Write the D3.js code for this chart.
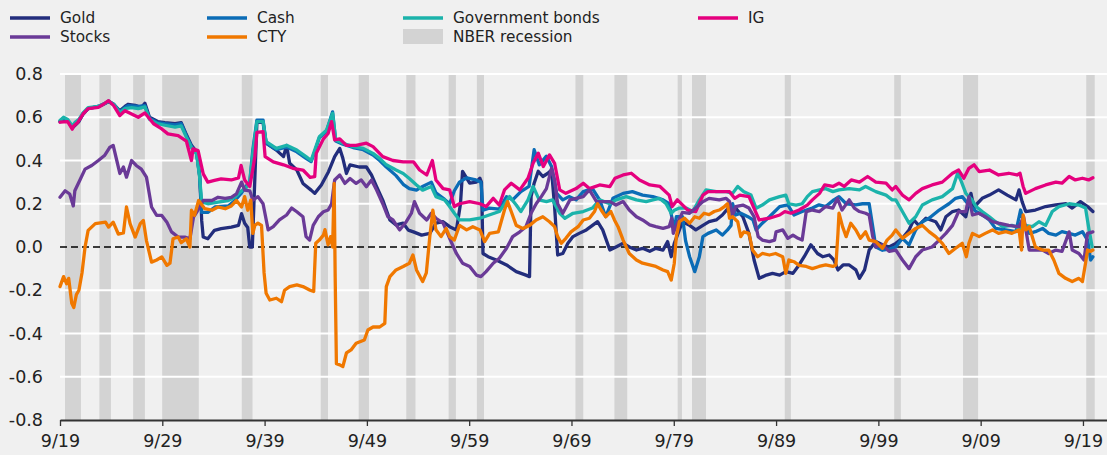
<!DOCTYPE html>
<html><head><meta charset="utf-8">
<script src="https://cdn.jsdelivr.net/npm/d3@7"></script>
<style>
html,body{margin:0;padding:0;background:#f0f0f0;}
svg{display:block;font-family:"DejaVu Sans",sans-serif;}
</style></head>
<body>
<svg id="c" width="1107" height="455"></svg>
<script>
// ---------- data (decimal year, correlation) ----------
const seriesNames = ["Gold","Cash","Government bonds","IG","Stocks","CTY"];
const xTickYears = [1919.75,1929.75,1939.75,1949.75,1959.75,1969.75,1979.75,1989.75,1999.75,2009.75,2019.75];
const xTickLabels = ["9/19","9/29","9/39","9/49","9/59","9/69","9/79","9/89","9/99","9/09","9/19"];
const yTicks = [-0.8,-0.6,-0.4,-0.2,0.0,0.2,0.4,0.6,0.8];
const recessions = [[1920.24,1921.8],[1923.6,1924.73],[1926.9,1928.05],[1929.74,1933.32],[1937.52,1938.57],[1945.24,1945.95],[1948.95,1949.95],[1953.6,1954.5],[1957.74,1958.45],[1960.5,1961.2],[1970.14,1970.9],[1973.95,1975.2],[1980.13,1980.55],[1981.53,1982.9],[1990.6,1991.2],[2001.3,2001.95],[2008.03,2009.5],[2020.07,2020.9]];

const ig = [[1919.75,0.577],[1920.5,0.58],[1920.95,0.545],[1921.1,0.56],[1921.5,0.577],[1922.0,0.615],[1922.5,0.64],[1923.5,0.646],[1924.0,0.66],[1924.5,0.677],[1925.0,0.654],[1925.6,0.608],[1926.1,0.63],[1926.75,0.615],[1927.4,0.6],[1928.05,0.62],[1928.9,0.57],[1929.7,0.546],[1930.3,0.523],[1931.3,0.515],[1932.1,0.49],[1932.6,0.4],[1932.75,0.454],[1933.25,0.446],[1933.75,0.338],[1934.2,0.3],[1934.85,0.308],[1935.5,0.315],[1936.5,0.31],[1937.2,0.32],[1937.45,0.377],[1937.8,0.31],[1938.3,0.28],[1938.6,0.36],[1938.8,0.42],[1939.0,0.53],[1939.6,0.533],[1939.8,0.418],[1940.6,0.394],[1941.6,0.38],[1942.5,0.364],[1943.5,0.356],[1944.2,0.322],[1944.65,0.325],[1944.8,0.433],[1945.5,0.50],[1945.96,0.525],[1946.3,0.58],[1946.6,0.495],[1947.1,0.50],[1947.75,0.47],[1948.7,0.47],[1949.7,0.48],[1950.35,0.464],[1951.3,0.418],[1952.3,0.40],[1953.3,0.394],[1954.3,0.394],[1954.9,0.356],[1955.6,0.333],[1956.15,0.40],[1956.5,0.31],[1957.2,0.27],[1957.84,0.264],[1958.3,0.187],[1958.8,0.20],[1959.8,0.21],[1960.8,0.20],[1961.4,0.187],[1962.1,0.225],[1962.7,0.194],[1963.2,0.264],[1963.86,0.295],[1964.7,0.264],[1965.5,0.318],[1966.0,0.387],[1966.5,0.434],[1967.0,0.372],[1967.6,0.426],[1968.1,0.387],[1968.6,0.264],[1969.2,0.248],[1970.2,0.27],[1970.9,0.295],[1971.5,0.27],[1972.5,0.287],[1973.5,0.279],[1974.0,0.318],[1974.8,0.333],[1975.6,0.341],[1976.4,0.31],[1977.4,0.287],[1978.4,0.28],[1979.3,0.24],[1979.6,0.187],[1980.1,0.218],[1980.6,0.195],[1981.1,0.171],[1981.9,0.164],[1982.6,0.24],[1983.1,0.256],[1984.2,0.256],[1985.2,0.256],[1985.7,0.225],[1986.2,0.24],[1987.1,0.233],[1987.6,0.179],[1988.1,0.125],[1989.1,0.133],[1990.1,0.148],[1990.6,0.164],[1991.2,0.156],[1992.0,0.171],[1992.8,0.194],[1993.3,0.218],[1994.0,0.248],[1994.5,0.287],[1995.3,0.28],[1995.9,0.295],[1996.4,0.28],[1997.1,0.31],[1997.9,0.30],[1998.7,0.326],[1999.5,0.30],[2000.5,0.295],[2001.1,0.264],[2001.45,0.28],[2002.1,0.24],[2002.75,0.218],[2003.4,0.248],[2004.05,0.27],[2005.0,0.287],[2006.0,0.30],[2007.0,0.341],[2007.6,0.356],[2008.1,0.318],[2008.6,0.364],[2009.1,0.38],[2009.6,0.349],[2010.6,0.356],[2011.5,0.333],[2012.5,0.341],[2013.3,0.333],[2013.6,0.341],[2013.9,0.28],[2014.15,0.248],[2015.1,0.27],[2016.1,0.287],[2017.1,0.30],[2017.7,0.295],[2018.4,0.326],[2019.0,0.31],[2019.7,0.318],[2020.3,0.31],[2020.72,0.32]];

const govBonds = [[1919.75,0.585],[1920.1,0.60],[1920.5,0.59],[1920.95,0.56],[1921.2,0.575],[1921.6,0.59],[1922.0,0.62],[1922.5,0.645],[1923.5,0.65],[1924.0,0.66],[1924.5,0.675],[1925.0,0.66],[1925.6,0.62],[1926.1,0.64],[1926.75,0.645],[1927.4,0.64],[1928.05,0.648],[1928.5,0.59],[1929.3,0.57],[1930.0,0.563],[1931.0,0.554],[1931.6,0.56],[1932.1,0.508],[1932.6,0.46],[1933.1,0.43],[1933.4,0.323],[1933.6,0.208],[1934.2,0.20],[1935.2,0.208],[1936.2,0.215],[1936.85,0.23],[1937.5,0.26],[1938.0,0.277],[1938.3,0.30],[1938.6,0.433],[1939.0,0.58],[1939.6,0.58],[1939.9,0.487],[1940.9,0.456],[1941.9,0.47],[1942.9,0.448],[1943.8,0.418],[1944.3,0.40],[1944.65,0.448],[1945.1,0.51],[1945.8,0.54],[1946.4,0.618],[1946.7,0.495],[1947.4,0.48],[1948.4,0.464],[1949.4,0.456],[1950.35,0.433],[1951.0,0.41],[1951.65,0.38],[1952.6,0.356],[1953.3,0.34],[1953.9,0.317],[1954.6,0.287],[1955.2,0.263],[1956.05,0.28],[1956.5,0.233],[1957.35,0.217],[1957.84,0.187],[1958.3,0.156],[1958.8,0.125],[1959.8,0.125],[1960.8,0.133],[1961.7,0.148],[1962.7,0.164],[1963.7,0.233],[1964.35,0.194],[1964.8,0.164],[1965.5,0.218],[1966.0,0.28],[1966.6,0.218],[1967.3,0.21],[1967.9,0.218],[1968.6,0.156],[1969.1,0.133],[1969.9,0.156],[1970.9,0.164],[1971.8,0.18],[1972.5,0.218],[1973.5,0.20],[1974.1,0.218],[1975.1,0.233],[1976.1,0.218],[1977.05,0.21],[1977.7,0.218],[1978.35,0.225],[1979.0,0.20],[1979.5,0.156],[1979.8,0.17],[1980.3,0.18],[1981.0,0.18],[1981.6,0.164],[1982.25,0.218],[1982.9,0.264],[1983.9,0.256],[1984.9,0.256],[1985.5,0.248],[1986.0,0.28],[1986.6,0.256],[1987.3,0.24],[1987.8,0.179],[1988.4,0.194],[1989.1,0.218],[1990.1,0.233],[1990.7,0.24],[1991.0,0.20],[1991.7,0.194],[1992.3,0.20],[1992.8,0.233],[1993.3,0.256],[1994.0,0.264],[1994.6,0.27],[1995.3,0.256],[1995.9,0.264],[1996.9,0.27],[1997.9,0.264],[1998.5,0.28],[1999.5,0.256],[2000.5,0.24],[2001.1,0.218],[2001.45,0.218],[2002.1,0.164],[2002.75,0.11],[2003.4,0.14],[2004.05,0.194],[2005.0,0.218],[2006.0,0.233],[2007.0,0.27],[2007.5,0.341],[2007.8,0.31],[2008.3,0.248],[2008.9,0.218],[2009.3,0.187],[2009.9,0.164],[2010.6,0.14],[2011.2,0.117],[2011.9,0.094],[2012.8,0.10],[2013.65,0.086],[2014.1,0.10],[2014.8,0.094],[2015.45,0.117],[2016.1,0.10],[2016.75,0.164],[2017.4,0.187],[2018.4,0.20],[2019.35,0.194],[2020.0,0.18],[2020.35,0.078],[2020.65,0.0]];

const cash = [[1919.75,0.58],[1920.1,0.595],[1920.5,0.585],[1920.95,0.555],[1921.2,0.57],[1921.6,0.585],[1922.0,0.615],[1922.5,0.64],[1923.5,0.65],[1924.0,0.66],[1924.5,0.675],[1925.0,0.66],[1925.6,0.625],[1926.1,0.645],[1926.4,0.654],[1927.4,0.65],[1928.05,0.654],[1928.5,0.595],[1929.3,0.575],[1930.0,0.57],[1931.0,0.565],[1931.6,0.57],[1932.1,0.515],[1932.6,0.465],[1933.1,0.435],[1933.4,0.33],[1933.6,0.16],[1934.2,0.16],[1934.9,0.185],[1936.2,0.19],[1936.85,0.215],[1937.5,0.25],[1938.0,0.285],[1938.3,0.30],[1938.6,0.45],[1939.0,0.587],[1939.6,0.587],[1939.9,0.48],[1940.9,0.45],[1941.9,0.462],[1942.9,0.44],[1943.8,0.41],[1944.3,0.395],[1944.65,0.44],[1945.1,0.505],[1945.8,0.535],[1946.4,0.625],[1946.7,0.49],[1947.4,0.475],[1948.4,0.46],[1949.4,0.45],[1950.35,0.425],[1951.0,0.40],[1951.65,0.37],[1952.6,0.33],[1953.3,0.29],[1953.9,0.27],[1954.6,0.263],[1955.2,0.28],[1956.05,0.30],[1956.5,0.25],[1957.35,0.22],[1957.84,0.20],[1958.3,0.26],[1958.8,0.30],[1959.5,0.32],[1960.4,0.31],[1960.9,0.30],[1961.1,0.17],[1961.7,0.18],[1962.7,0.175],[1963.4,0.233],[1964.0,0.218],[1964.8,0.256],[1965.6,0.28],[1966.1,0.45],[1966.6,0.38],[1967.3,0.42],[1967.8,0.372],[1968.3,0.248],[1968.9,0.218],[1969.5,0.233],[1970.2,0.218],[1970.9,0.256],[1971.8,0.27],[1972.5,0.218],[1973.1,0.14],[1973.8,0.225],[1974.8,0.248],[1975.7,0.256],[1976.7,0.24],[1977.7,0.233],[1978.7,0.218],[1979.3,0.20],[1979.8,0.08],[1980.0,0.14],[1980.6,0.14],[1980.9,0.03],[1981.3,-0.045],[1981.8,-0.114],[1982.25,-0.045],[1982.6,0.048],[1983.1,0.063],[1983.9,0.079],[1984.5,0.055],[1985.0,0.079],[1985.35,0.10],[1985.5,0.20],[1985.8,0.148],[1986.3,0.156],[1987.0,0.14],[1987.5,0.125],[1987.8,0.079],[1988.4,0.11],[1989.1,0.14],[1990.1,0.187],[1990.9,0.195],[1991.5,0.148],[1992.3,0.164],[1993.3,0.18],[1993.95,0.195],[1994.6,0.187],[1995.4,0.218],[1995.9,0.233],[1996.6,0.20],[1997.55,0.195],[1998.2,0.20],[1998.85,0.20],[1999.2,0.094],[1999.5,0.0],[2000.15,-0.015],[2000.8,-0.01],[2001.45,0.0],[2002.1,0.04],[2002.75,0.01],[2003.4,0.079],[2004.05,0.117],[2004.7,0.133],[2005.7,0.171],[2006.65,0.20],[2007.3,0.225],[2007.95,0.233],[2008.6,0.194],[2009.3,0.164],[2009.9,0.148],[2010.6,0.125],[2011.2,0.086],[2012.2,0.079],[2013.2,0.071],[2013.65,0.171],[2014.0,0.11],[2014.5,0.063],[2015.1,0.071],[2015.8,0.086],[2016.4,0.063],[2017.1,0.055],[2017.7,0.071],[2018.4,0.063],[2019.0,0.055],[2019.7,0.071],[2020.2,0.032],[2020.5,-0.06],[2020.72,-0.045]];

const gold = [[1919.75,0.58],[1920.5,0.585],[1920.95,0.55],[1921.6,0.58],[1922.0,0.615],[1922.5,0.64],[1923.5,0.65],[1924.5,0.672],[1925.0,0.66],[1925.6,0.63],[1926.1,0.65],[1926.4,0.66],[1927.1,0.655],[1927.7,0.645],[1928.05,0.665],[1928.5,0.60],[1929.3,0.58],[1930.0,0.575],[1931.0,0.57],[1931.6,0.575],[1932.1,0.52],[1932.6,0.47],[1933.1,0.44],[1933.4,0.33],[1933.6,0.123],[1933.75,0.046],[1934.2,0.038],[1934.85,0.077],[1935.5,0.085],[1936.5,0.092],[1937.2,0.10],[1937.5,0.154],[1937.8,0.11],[1938.1,0.09],[1938.3,0.0],[1938.55,0.0],[1938.7,0.19],[1939.0,0.58],[1939.6,0.575],[1939.9,0.48],[1940.9,0.448],[1941.6,0.418],[1941.9,0.47],[1942.2,0.387],[1942.9,0.356],[1943.5,0.294],[1944.3,0.263],[1944.65,0.248],[1945.3,0.287],[1946.0,0.348],[1946.6,0.418],[1947.1,0.456],[1947.4,0.41],[1947.75,0.34],[1948.1,0.38],[1949.0,0.37],[1949.7,0.37],[1950.2,0.333],[1950.7,0.279],[1951.3,0.217],[1952.0,0.125],[1952.6,0.102],[1953.3,0.11],[1953.8,0.078],[1954.3,0.07],[1955.1,0.055],[1955.9,0.063],[1956.5,0.11],[1957.2,0.117],[1957.84,0.094],[1958.5,0.079],[1958.9,0.20],[1959.1,0.35],[1959.8,0.295],[1960.45,0.30],[1960.8,0.318],[1960.95,0.30],[1961.1,-0.03],[1961.6,-0.045],[1962.4,-0.06],[1963.4,-0.083],[1964.35,-0.114],[1965.3,-0.13],[1965.65,-0.137],[1965.8,0.233],[1966.1,0.295],[1966.5,0.35],[1966.95,0.326],[1967.45,0.341],[1967.8,0.356],[1968.1,0.187],[1968.4,-0.037],[1968.9,-0.03],[1969.4,0.017],[1969.9,0.048],[1970.5,0.063],[1971.2,0.079],[1971.8,0.10],[1972.3,0.117],[1972.8,0.079],[1973.5,-0.014],[1974.1,0.0],[1974.8,0.017],[1975.4,0.0],[1976.1,-0.014],[1976.7,-0.006],[1977.4,-0.02],[1978.0,-0.006],[1978.7,-0.014],[1979.15,0.025],[1979.5,-0.045],[1979.8,0.017],[1980.6,0.117],[1981.3,0.10],[1981.9,0.079],[1982.6,0.10],[1983.2,0.117],[1983.9,0.125],[1984.5,0.148],[1985.2,0.187],[1985.5,0.164],[1985.8,0.18],[1986.5,0.14],[1987.1,0.063],[1987.6,-0.06],[1988.1,-0.145],[1988.8,-0.13],[1989.4,-0.122],[1990.1,-0.13],[1990.7,-0.114],[1991.4,-0.122],[1992.0,-0.083],[1992.5,-0.045],[1993.15,0.01],[1993.8,-0.03],[1994.3,-0.045],[1994.95,-0.037],[1995.4,-0.06],[1995.8,-0.106],[1996.3,-0.083],[1996.9,-0.083],[1997.55,-0.106],[1997.9,-0.145],[1998.4,-0.106],[1998.85,-0.014],[1999.5,0.025],[2000.15,0.01],[2000.8,0.0],[2001.45,0.017],[2002.1,0.04],[2002.75,0.079],[2003.2,0.125],[2003.7,0.10],[2004.4,0.133],[2005.35,0.117],[2005.85,0.079],[2006.35,0.14],[2007.0,0.164],[2007.6,0.171],[2008.3,0.14],[2008.8,0.248],[2009.1,0.18],[2009.4,0.20],[2009.9,0.225],[2010.6,0.24],[2011.5,0.264],[2012.35,0.24],[2013.2,0.218],[2013.5,0.264],[2013.8,0.21],[2014.15,0.164],[2015.1,0.171],[2016.1,0.187],[2017.1,0.195],[2018.1,0.20],[2018.7,0.18],[2019.5,0.21],[2020.2,0.187],[2020.72,0.164]];

const stocks = [[1919.75,0.23],[1920.25,0.26],[1920.7,0.245],[1921.05,0.19],[1921.2,0.26],[1921.7,0.31],[1922.2,0.36],[1922.85,0.377],[1923.5,0.40],[1924.1,0.423],[1924.6,0.46],[1924.95,0.47],[1925.3,0.40],[1925.6,0.34],[1925.95,0.37],[1926.25,0.323],[1926.75,0.40],[1927.2,0.377],[1927.7,0.36],[1928.2,0.323],[1928.7,0.185],[1929.2,0.146],[1929.7,0.146],[1930.2,0.115],[1930.65,0.07],[1931.3,0.046],[1931.95,0.046],[1932.45,0.038],[1932.8,0.138],[1933.1,0.16],[1933.75,0.215],[1934.6,0.215],[1935.2,0.23],[1935.9,0.225],[1936.5,0.23],[1937.0,0.246],[1937.5,0.30],[1937.8,0.263],[1938.3,0.26],[1938.6,0.217],[1939.1,0.233],[1939.6,0.20],[1940.1,0.079],[1940.6,0.094],[1941.2,0.125],[1941.9,0.148],[1942.4,0.18],[1942.9,0.163],[1943.5,0.14],[1943.8,0.048],[1944.15,0.032],[1944.5,0.10],[1945.0,0.14],[1945.5,0.163],[1945.96,0.171],[1946.3,0.20],[1946.6,0.31],[1947.1,0.333],[1947.6,0.294],[1948.1,0.317],[1948.7,0.294],[1949.2,0.31],[1949.7,0.279],[1950.2,0.31],[1950.7,0.263],[1951.3,0.20],[1951.8,0.14],[1952.3,0.125],[1952.95,0.079],[1953.6,0.117],[1954.1,0.156],[1954.4,0.21],[1954.9,0.156],[1955.6,0.125],[1956.05,0.156],[1956.5,0.133],[1957.2,0.11],[1957.84,0.04],[1958.5,-0.03],[1959.1,-0.075],[1959.8,-0.09],[1960.45,-0.13],[1960.9,-0.137],[1961.4,-0.114],[1962.1,-0.075],[1962.7,-0.052],[1963.4,-0.006],[1964.0,0.048],[1964.7,0.07],[1965.3,0.094],[1965.8,0.156],[1966.3,0.20],[1966.8,0.233],[1967.3,0.27],[1967.8,0.364],[1968.1,0.31],[1968.4,0.20],[1968.9,0.156],[1969.6,0.218],[1970.2,0.225],[1970.9,0.233],[1971.5,0.264],[1972.2,0.21],[1972.8,0.21],[1973.5,0.21],[1974.1,0.194],[1974.8,0.21],[1975.4,0.171],[1976.1,0.14],[1976.7,0.125],[1977.4,0.102],[1978.0,0.094],[1978.7,0.086],[1979.3,0.094],[1979.55,0.133],[1979.7,0.063],[1980.0,0.10],[1980.6,0.16],[1981.3,0.156],[1981.9,0.18],[1982.6,0.21],[1983.2,0.225],[1984.2,0.218],[1984.85,0.225],[1985.2,0.21],[1985.5,0.148],[1985.8,0.187],[1986.5,0.194],[1987.1,0.18],[1987.6,0.14],[1988.0,0.048],[1988.4,0.032],[1989.1,0.025],[1989.6,0.032],[1989.75,0.07],[1990.4,0.079],[1990.9,0.04],[1991.4,0.055],[1991.9,0.04],[1992.3,0.032],[1992.7,0.164],[1993.3,0.171],[1994.0,0.164],[1994.6,0.187],[1995.3,0.18],[1995.75,0.225],[1996.2,0.171],[1996.9,0.218],[1997.4,0.18],[1997.9,0.164],[1998.5,0.156],[1998.85,0.148],[1999.2,0.048],[1999.5,0.0],[2000.15,0.01],[2000.8,-0.02],[2001.45,-0.014],[2002.1,-0.06],[2002.75,-0.10],[2003.4,-0.045],[2004.05,-0.014],[2005.0,0.0],[2005.7,0.032],[2006.35,0.063],[2007.0,0.10],[2007.6,0.164],[2008.3,0.164],[2008.6,0.233],[2008.95,0.148],[2009.6,0.156],[2010.2,0.14],[2010.9,0.117],[2011.5,0.11],[2012.5,0.10],[2013.5,0.094],[2013.95,0.14],[2014.5,-0.014],[2015.1,-0.014],[2015.8,-0.014],[2016.4,-0.03],[2017.1,-0.014],[2017.7,-0.02],[2018.4,0.07],[2018.7,-0.014],[2019.35,-0.03],[2019.85,-0.06],[2020.2,0.063],[2020.72,0.07]];

const cty = [[1919.75,-0.183],[1920.1,-0.137],[1920.4,-0.17],[1920.6,-0.145],[1920.9,-0.26],[1921.1,-0.28],[1921.35,-0.22],[1921.6,-0.2],[1921.9,-0.12],[1922.2,0.0],[1922.5,0.077],[1923.2,0.108],[1924.2,0.115],[1924.5,0.092],[1924.95,0.115],[1925.45,0.06],[1925.95,0.065],[1926.25,0.185],[1926.6,0.108],[1927.1,0.046],[1927.6,0.108],[1927.9,0.123],[1928.2,0.03],[1928.7,-0.07],[1929.2,-0.06],[1929.7,-0.046],[1930.2,-0.085],[1930.5,-0.075],[1930.8,0.038],[1931.3,0.046],[1931.6,0.02],[1932.1,0.038],[1932.45,0.0],[1932.6,0.17],[1932.9,0.146],[1933.3,0.215],[1933.9,0.177],[1934.6,0.17],[1935.2,0.185],[1935.9,0.177],[1936.5,0.19],[1937.0,0.215],[1937.5,0.185],[1937.8,0.233],[1938.1,0.17],[1938.4,0.217],[1938.6,0.063],[1938.8,0.10],[1939.1,0.11],[1939.45,0.10],[1939.7,-0.12],[1939.9,-0.214],[1940.26,-0.245],[1940.9,-0.237],[1941.4,-0.253],[1941.7,-0.2],[1942.2,-0.183],[1942.9,-0.175],[1943.5,-0.183],[1944.2,-0.2],[1944.55,-0.206],[1944.75,0.017],[1945.1,0.032],[1945.5,0.055],[1945.65,0.08],[1945.96,0.01],[1946.2,0.048],[1946.4,0.0],[1946.55,0.294],[1946.65,-0.137],[1946.77,-0.54],[1947.1,-0.545],[1947.4,-0.553],[1947.75,-0.49],[1948.2,-0.476],[1948.7,-0.445],[1949.5,-0.43],[1949.85,-0.384],[1950.35,-0.37],[1951.0,-0.37],[1951.5,-0.353],[1951.65,-0.183],[1952.0,-0.137],[1952.6,-0.106],[1953.3,-0.09],[1953.9,-0.075],[1954.25,-0.037],[1954.6,-0.106],[1955.2,-0.16],[1955.56,-0.12],[1955.9,0.048],[1956.2,0.17],[1956.5,0.08],[1957.0,0.048],[1957.5,0.086],[1957.84,0.048],[1958.3,0.032],[1958.8,0.10],[1959.5,0.079],[1960.1,0.094],[1960.8,0.079],[1961.26,0.025],[1961.75,0.063],[1962.6,0.07],[1963.2,0.171],[1963.5,0.21],[1963.86,0.164],[1964.35,0.10],[1965.0,0.086],[1965.65,0.10],[1966.3,0.125],[1966.95,0.14],[1967.6,0.117],[1968.1,0.094],[1968.4,0.048],[1968.75,0.017],[1969.2,0.04],[1969.7,0.07],[1970.4,0.094],[1970.9,0.125],[1971.5,0.133],[1972.0,0.164],[1972.3,0.20],[1972.65,0.171],[1973.1,0.14],[1973.6,0.164],[1973.95,0.125],[1974.3,0.094],[1974.8,0.032],[1975.4,-0.03],[1976.1,-0.06],[1976.7,-0.075],[1977.4,-0.083],[1978.0,-0.09],[1978.7,-0.106],[1979.15,-0.114],[1979.5,-0.153],[1979.8,-0.075],[1980.0,0.048],[1980.3,0.117],[1980.8,0.133],[1981.3,0.11],[1981.8,0.14],[1982.25,0.133],[1982.7,0.156],[1983.2,0.15],[1983.7,0.164],[1984.2,0.171],[1984.7,0.187],[1985.0,0.20],[1985.2,0.133],[1985.5,0.14],[1986.0,0.117],[1986.3,0.048],[1986.6,0.07],[1987.1,0.063],[1987.45,-0.014],[1987.95,-0.045],[1988.4,-0.03],[1989.1,-0.037],[1989.7,-0.03],[1990.4,-0.045],[1990.7,-0.122],[1991.0,-0.06],[1991.5,-0.068],[1992.0,-0.085],[1992.7,-0.09],[1993.3,-0.10],[1993.95,-0.09],[1994.6,-0.083],[1995.3,-0.09],[1995.6,-0.083],[1995.8,0.063],[1995.9,0.156],[1996.25,0.094],[1996.6,0.048],[1997.05,0.11],[1997.55,0.079],[1998.0,0.04],[1998.5,0.07],[1998.85,0.032],[1999.5,0.025],[2000.15,-0.006],[2000.6,0.032],[2001.1,0.055],[2001.45,0.079],[2002.1,0.04],[2002.75,0.063],[2003.4,0.086],[2004.05,0.10],[2004.7,0.071],[2005.35,0.048],[2006.0,0.017],[2006.65,-0.03],[2007.3,-0.006],[2007.95,0.017],[2008.35,-0.045],[2008.6,0.017],[2008.95,0.063],[2009.6,0.048],[2010.2,0.063],[2010.9,0.079],[2011.5,0.063],[2012.2,0.071],[2012.8,0.063],[2013.5,0.079],[2013.75,-0.014],[2013.9,0.148],[2014.15,0.079],[2014.5,0.094],[2015.1,0.0],[2015.8,-0.014],[2016.4,-0.014],[2016.9,-0.06],[2017.4,-0.122],[2018.05,-0.145],[2018.7,-0.16],[2019.35,-0.145],[2019.7,-0.16],[2020.0,-0.075],[2020.2,-0.014],[2020.5,-0.02],[2020.72,-0.014]];

const seriesColors = {"Gold":"#222d7c","Cash":"#0b6cb6","Government bonds":"#1bb3ab","IG":"#e5007e","Stocks":"#6a3a97","CTY":"#f07800"};
const seriesData = {"Gold":gold,"Cash":cash,"Government bonds":govBonds,"IG":ig,"Stocks":stocks,"CTY":cty};

// ---------- chart ----------
const svg = d3.select("#c");
const x = d3.scaleLinear().domain([1919.75, 2022.1]).range([60, 1107]);
const y = d3.scaleLinear().domain([-0.8, 0.8]).range([420, 74]);

// recession bands
svg.append("g").selectAll("rect").data(recessions).join("rect")
  .attr("x", d => x(d[0])).attr("width", d => x(d[1]) - x(d[0]))
  .attr("y", y(0.8)).attr("height", y(-0.8) - y(0.8))
  .attr("fill", "#d3d3d3");

// gridlines
svg.append("g").selectAll("line").data(yTicks.filter(v => v !== 0 && v !== -0.8)).join("line")
  .attr("x1", 60).attr("x2", 1107).attr("y1", d => y(d)).attr("y2", d => y(d))
  .attr("stroke", "#ffffff").attr("stroke-width", 2);

// zero line
svg.append("line").attr("x1", 60).attr("x2", 1107).attr("y1", y(0)).attr("y2", y(0))
  .attr("stroke", "#000").attr("stroke-width", 1.3).attr("stroke-dasharray", "7,4");

// lines
const line = d3.line().x(d => x(d[0])).y(d => y(d[1])).curve(d3.curveLinear);
svg.append("g").selectAll("path").data(seriesNames).join("path")
  .attr("d", n => line(seriesData[n]))
  .attr("fill", "none").attr("stroke", n => seriesColors[n])
  .attr("stroke-width", 3.3).attr("stroke-linejoin", "round").attr("stroke-linecap", "round");

// x axis
const xAxis = d3.axisBottom(x).tickValues(xTickYears)
  .tickFormat((d, i) => xTickLabels[i]).tickSize(6).tickSizeOuter(0).tickPadding(9);
const gx = svg.append("g").attr("transform", `translate(0,${y(-0.8)})`).call(xAxis);
gx.select(".domain").attr("stroke", "#333").attr("stroke-width", 2);
gx.selectAll(".tick line").attr("stroke", "#333").attr("stroke-width", 1.3);
gx.selectAll(".tick text").attr("fill", "#222").style("font-size", "17.5px")
  .style("font-family", "DejaVu Sans, sans-serif");

// y axis labels
const yAxis = d3.axisLeft(y).tickValues(yTicks).tickFormat(d => d.toFixed(1)).tickSize(0).tickPadding(0);
const gy = svg.append("g").attr("transform", "translate(43,0)").call(yAxis);
gy.select(".domain").remove();
gy.selectAll(".tick text").attr("fill", "#222").style("font-size", "17.5px")
  .style("font-family", "DejaVu Sans, sans-serif");

// legend
const legendItems = [
  {name:"Gold", col:0, row:0, type:"line"},
  {name:"Stocks", col:0, row:1, type:"line"},
  {name:"Cash", col:1, row:0, type:"line"},
  {name:"CTY", col:1, row:1, type:"line"},
  {name:"Government bonds", col:2, row:0, type:"line"},
  {name:"NBER recession", col:2, row:1, type:"rect"},
  {name:"IG", col:3, row:0, type:"line"}
];
const colX = [10, 207, 403, 698];
const rowY = [18, 37];
const lg = svg.append("g");
legendItems.forEach(it => {
  const gx0 = colX[it.col], gy0 = rowY[it.row];
  if (it.type === "line") {
    lg.append("line").attr("x1", gx0).attr("x2", gx0 + 40).attr("y1", gy0).attr("y2", gy0)
      .attr("stroke", seriesColors[it.name]).attr("stroke-width", 3.5);
  } else {
    lg.append("rect").attr("x", gx0).attr("y", gy0 - 8).attr("width", 40).attr("height", 15)
      .attr("fill", "#d3d3d3");
  }
  lg.append("text").attr("x", gx0 + 50).attr("y", gy0).attr("dy", "0.35em")
    .attr("fill", "#222").style("font-size", "15.3px").text(it.name);
});
</script>
</body></html>
